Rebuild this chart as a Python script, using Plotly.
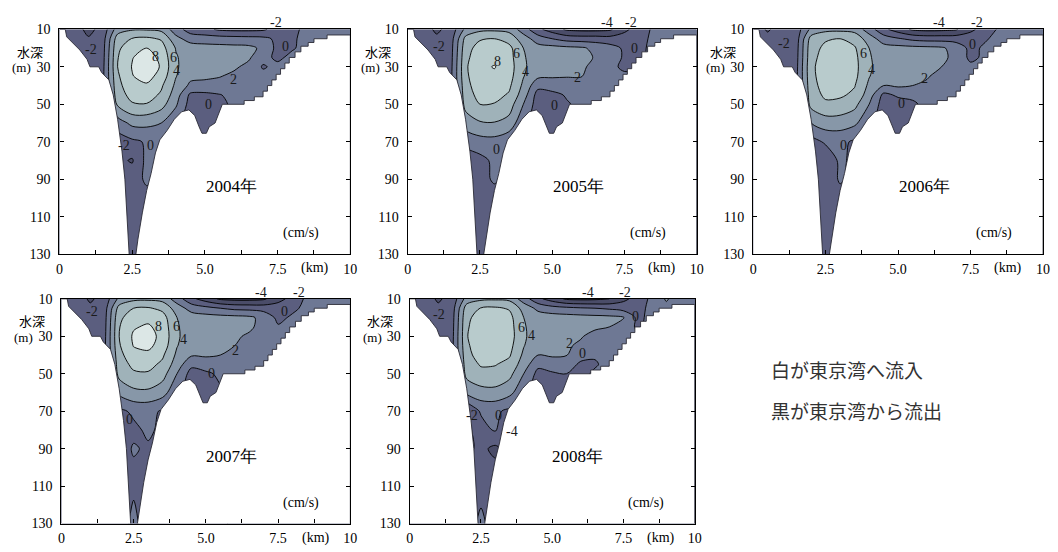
import plotly.graph_objects as go

# ---------------- data ----------------
X_KM = [0, 0.5, 1, 1.5, 2, 2.5, 3, 3.5, 4, 4.5, 5, 5.5, 6, 6.5, 7, 7.5, 8, 8.5, 9, 9.5, 10]
DEPTH_M = [10, 15, 20, 25, 30, 35, 40, 45, 50, 60, 70, 80, 90, 105, 130]
YEARS = ["2004年", "2005年", "2006年", "2007年", "2008年"]

V2004 = [
    [-1.0, -1.0, -2.6, -1.2, 3.0, 3.8, 3.8, 3.5, 1.0, -1.0, -1.5, -2.3, -2.5, -2.5, -2.3, -1.2, -0.5, 0.5, 0.8, 0.8, 0.8],
    [-1.0, -1.0, -1.8, -0.8, 5.0, 6.1, 6.4, 5.8, 2.6, 1.2, 1.0, 0.9, 0.8, 0.7, 0.5, -0.4, -0.3, 0.6, 0.8, 0.8, 0.8],
    [-1.0, -1.2, -1.5, -0.6, 5.6, 7.3, 8.0, 6.9, 3.9, 3.0, 2.8, 2.7, 2.6, 2.5, 1.6, -0.6, -0.2, 0.6, 0.8, 0.8, 0.8],
    [-1.0, -1.3, -1.2, -0.5, 5.9, 7.9, 8.9, 7.5, 4.2, 3.0, 2.9, 2.8, 2.7, 2.3, 0.6, -0.4, 0.5, 0.8, 0.8, 0.8, 0.8],
    [-1.0, -1.3, -1.0, -0.4, 6.0, 8.1, 9.3, 7.8, 4.3, 2.8, 2.6, 2.5, 2.3, 1.5, -0.2, 0.5, 0.8, 0.8, 0.8, 0.8, 0.8],
    [-1.0, -1.2, -1.0, -0.3, 5.7, 7.9, 8.8, 7.2, 4.1, 2.5, 2.3, 2.1, 1.6, 1.0, 0.6, 0.7, 0.8, 0.8, 0.8, 0.8, 0.8],
    [-1.0, -1.0, -1.0, -0.3, 5.4, 7.3, 7.7, 6.3, 3.6, 1.6, 1.5, 1.3, 1.0, 0.8, 0.7, 0.7, 0.8, 0.8, 0.8, 0.8, 0.8],
    [-1.0, -1.0, -1.0, -0.2, 5.0, 6.7, 6.9, 5.7, 3.0, -0.4, -0.5, -0.1, 0.5, 0.7, 0.8, 0.8, 0.8, 0.8, 0.8, 0.8, 0.8],
    [-1.0, -1.0, -1.0, 0.0, 4.3, 5.8, 5.9, 4.8, 2.3, -0.8, -0.8, -0.4, 0.3, 0.7, 0.8, 0.8, 0.8, 0.8, 0.8, 0.8, 0.8],
    [-1.0, -1.0, -1.0, 0.0, 1.0, 2.5, 2.5, 2.0, 0.5, -1.0, -1.0, -0.5, 0.3, 0.7, 0.8, 0.8, 0.8, 0.8, 0.8, 0.8, 0.8],
    [-1.0, -1.0, -1.0, -1.0, -1.0, -0.4, 0.2, 0.0, -0.5, -1.0, -1.0, -0.5, 0.3, 0.7, 0.8, 0.8, 0.8, 0.8, 0.8, 0.8, 0.8],
    [-1.0, -1.0, -1.0, -1.0, -1.5, -2.2, 0.6, -0.5, -1.0, -1.0, -1.0, -0.5, 0.3, 0.7, 0.8, 0.8, 0.8, 0.8, 0.8, 0.8, 0.8],
    [-1.0, -1.0, -1.0, -1.0, -1.0, -0.8, 0.3, -0.5, -1.0, -1.0, -1.0, -0.5, 0.3, 0.7, 0.8, 0.8, 0.8, 0.8, 0.8, 0.8, 0.8],
    [-1.0, -1.0, -1.0, -1.0, -1.0, -1.0, -1.0, -1.0, -1.0, -1.0, -1.0, -0.5, 0.3, 0.7, 0.8, 0.8, 0.8, 0.8, 0.8, 0.8, 0.8],
    [-1.0, -1.0, -1.0, -1.0, -1.0, -1.0, -1.0, -1.0, -1.0, -1.0, -1.0, -0.5, 0.3, 0.7, 0.8, 0.8, 0.8, 0.8, 0.8, 0.8, 0.8],
]

V2005 = [
    [-1.0, -1.0, -2.4, -1.2, 2.5, 3.5, 3.6, 3.4, 1.0, -1.5, -3.0, -4.3, -4.6, -4.6, -4.3, -2.5, -1.0, 0.3, 0.8, 0.8, 0.8],
    [-1.0, -1.0, -1.6, -0.8, 4.6, 5.8, 6.0, 5.2, 3.0, 1.0, 0.0, -0.8, -1.0, -1.0, -1.2, -1.0, -0.5, 0.3, 0.8, 0.8, 0.8],
    [-1.0, -1.2, -1.4, -0.6, 5.2, 6.8, 7.1, 6.6, 4.0, 2.8, 2.7, 2.5, 2.3, 1.5, 0.8, -0.3, -0.5, 0.5, 0.8, 0.8, 0.8],
    [-1.0, -1.2, -1.2, -0.5, 5.5, 7.2, 7.5, 6.8, 4.2, 3.0, 2.8, 2.6, 2.4, 1.9, 0.8, -0.2, -0.5, 0.6, 0.8, 0.8, 0.8],
    [-1.0, -1.2, -1.0, -0.4, 5.7, 7.6, 8.1, 7.0, 4.3, 3.0, 2.7, 2.5, 2.3, 1.5, 0.5, -0.4, -0.3, 0.6, 0.8, 0.8, 0.8],
    [-1.0, -1.1, -1.0, -0.3, 5.6, 7.4, 7.6, 6.8, 4.1, 2.4, 2.2, 2.1, 2.1, 1.2, 0.6, 0.4, 0.6, 0.8, 0.8, 0.8, 0.8],
    [-1.0, -1.0, -1.0, -0.3, 5.3, 7.2, 7.2, 6.4, 3.6, 0.6, 1.0, 1.2, 1.0, 0.8, 0.6, 0.6, 0.8, 0.8, 0.8, 0.8, 0.8],
    [-1.0, -1.0, -1.0, -0.2, 5.0, 6.7, 6.6, 5.8, 3.0, -0.8, -0.6, 0.2, 0.6, 0.7, 0.8, 0.8, 0.8, 0.8, 0.8, 0.8, 0.8],
    [-1.0, -1.0, -1.0, 0.0, 4.6, 6.0, 5.9, 5.0, 2.0, -1.0, -0.9, -0.2, 0.5, 0.7, 0.8, 0.8, 0.8, 0.8, 0.8, 0.8, 0.8],
    [-1.0, -1.0, -1.0, 0.0, 3.0, 3.8, 3.9, 3.3, 0.5, -1.0, -1.0, -0.5, 0.5, 0.7, 0.8, 0.8, 0.8, 0.8, 0.8, 0.8, 0.8],
    [-1.0, -1.0, -1.0, -1.0, 0.5, 1.2, 1.3, 0.5, -0.5, -1.0, -1.0, -0.5, 0.5, 0.7, 0.8, 0.8, 0.8, 0.8, 0.8, 0.8, 0.8],
    [-1.0, -1.0, -1.0, -1.0, -1.0, -0.6, 0.4, -0.3, -1.0, -1.0, -1.0, -0.5, 0.5, 0.7, 0.8, 0.8, 0.8, 0.8, 0.8, 0.8, 0.8],
    [-1.0, -1.0, -1.0, -1.0, -1.0, -0.5, 0.2, -0.5, -1.0, -1.0, -1.0, -0.5, 0.5, 0.7, 0.8, 0.8, 0.8, 0.8, 0.8, 0.8, 0.8],
    [-1.0, -1.0, -1.0, -1.0, -1.0, -1.0, -1.0, -1.0, -1.0, -1.0, -1.0, -0.5, 0.5, 0.7, 0.8, 0.8, 0.8, 0.8, 0.8, 0.8, 0.8],
    [-1.0, -1.0, -1.0, -1.0, -1.0, -1.0, -1.0, -1.0, -1.0, -1.0, -1.0, -0.5, 0.5, 0.7, 0.8, 0.8, 0.8, 0.8, 0.8, 0.8, 0.8],
]

V2006 = [
    [-1.0, -2.2, -1.2, -1.0, 2.5, 3.4, 3.5, 3.3, 1.0, -1.5, -3.0, -4.3, -4.6, -4.5, -4.2, -2.5, -1.0, 0.3, 0.8, 0.8, 0.8],
    [-1.0, -1.5, -1.4, -0.8, 4.8, 5.8, 6.0, 5.3, 3.0, 1.0, 0.2, -0.5, -0.8, -0.8, -0.8, -0.8, -0.2, 0.6, 0.8, 0.8, 0.8],
    [-1.0, -1.2, -1.4, -0.6, 5.3, 6.4, 6.6, 6.2, 4.0, 2.8, 2.7, 2.6, 2.5, 2.3, 1.2, -0.5, 0.3, 0.7, 0.8, 0.8, 0.8],
    [-1.0, -1.2, -1.2, -0.5, 5.4, 6.8, 7.0, 6.5, 4.2, 3.0, 2.9, 2.8, 2.7, 2.4, 1.5, -0.5, 0.4, 0.8, 0.8, 0.8, 0.8],
    [-1.0, -1.3, -1.0, -0.4, 5.6, 7.0, 7.2, 6.6, 4.3, 3.0, 2.8, 2.6, 2.4, 2.0, 0.4, 0.5, 0.8, 0.8, 0.8, 0.8, 0.8],
    [-1.0, -1.2, -1.0, -0.3, 5.5, 7.0, 7.2, 6.5, 4.1, 2.7, 2.5, 2.3, 2.2, 1.2, 0.6, 0.7, 0.8, 0.8, 0.8, 0.8, 0.8],
    [-1.0, -1.0, -1.0, -0.3, 5.3, 6.8, 6.9, 6.1, 3.6, 2.0, 2.3, 2.0, 1.6, 0.9, 0.7, 0.7, 0.8, 0.8, 0.8, 0.8, 0.8],
    [-1.0, -1.0, -1.0, -0.2, 5.0, 6.4, 6.3, 5.6, 3.0, -0.5, 0.3, 0.4, 0.5, 0.7, 0.8, 0.8, 0.8, 0.8, 0.8, 0.8, 0.8],
    [-1.0, -1.0, -1.0, 0.0, 4.6, 5.6, 5.4, 4.6, 2.0, -1.0, -0.8, -0.3, 0.5, 0.7, 0.8, 0.8, 0.8, 0.8, 0.8, 0.8, 0.8],
    [-1.0, -1.0, -1.0, 0.0, 2.0, 3.0, 3.0, 2.4, 0.5, -1.0, -1.0, -0.5, 0.5, 0.7, 0.8, 0.8, 0.8, 0.8, 0.8, 0.8, 0.8],
    [-1.0, -1.0, -1.0, -1.0, -0.8, 0.3, 0.5, -0.3, -1.0, -1.0, -1.0, -0.5, 0.5, 0.7, 0.8, 0.8, 0.8, 0.8, 0.8, 0.8, 0.8],
    [-1.0, -1.0, -1.0, -1.0, -1.0, -1.5, 0.4, -0.5, -1.0, -1.0, -1.0, -0.5, 0.5, 0.7, 0.8, 0.8, 0.8, 0.8, 0.8, 0.8, 0.8],
    [-1.0, -1.0, -1.0, -1.0, -1.0, -1.0, 0.2, -0.5, -1.0, -1.0, -1.0, -0.5, 0.5, 0.7, 0.8, 0.8, 0.8, 0.8, 0.8, 0.8, 0.8],
    [-1.0, -1.0, -1.0, -1.0, -1.0, -1.0, -1.0, -1.0, -1.0, -1.0, -1.0, -0.5, 0.5, 0.7, 0.8, 0.8, 0.8, 0.8, 0.8, 0.8, 0.8],
    [-1.0, -1.0, -1.0, -1.0, -1.0, -1.0, -1.0, -1.0, -1.0, -1.0, -1.0, -0.5, 0.5, 0.7, 0.8, 0.8, 0.8, 0.8, 0.8, 0.8, 0.8],
]

V2007 = [
    [-1.0, -1.0, -2.3, -1.2, 2.5, 3.5, 3.6, 3.3, 1.0, -1.5, -3.0, -4.3, -4.6, -4.6, -4.3, -2.8, -1.2, 0.4, 0.8, 0.8, 0.8],
    [-1.0, -1.0, -1.6, -0.8, 4.8, 6.0, 6.2, 5.5, 3.0, 1.2, 0.6, 0.0, -0.5, -0.6, -0.8, -0.8, -0.4, 0.5, 0.8, 0.8, 0.8],
    [-1.0, -1.2, -1.4, -0.6, 5.6, 7.0, 7.4, 6.8, 4.0, 3.0, 2.8, 2.7, 2.6, 2.4, 1.4, -0.5, 0.3, 0.7, 0.8, 0.8, 0.8],
    [-1.0, -1.2, -1.2, -0.5, 5.9, 7.8, 8.3, 7.2, 4.2, 3.0, 2.9, 2.8, 2.7, 2.5, 1.0, 0.2, 0.6, 0.8, 0.8, 0.8, 0.8],
    [-1.0, -1.3, -1.0, -0.4, 6.0, 8.3, 8.8, 7.4, 4.3, 2.9, 2.7, 2.6, 2.4, 1.6, 0.5, 0.6, 0.8, 0.8, 0.8, 0.8, 0.8],
    [-1.0, -1.2, -1.0, -0.3, 5.8, 8.1, 8.5, 7.1, 4.1, 2.6, 2.3, 2.4, 2.0, 1.2, 0.6, 0.7, 0.8, 0.8, 0.8, 0.8, 0.8],
    [-1.0, -1.0, -1.0, -0.3, 5.4, 7.3, 7.5, 6.3, 3.6, 2.2, 2.3, 2.0, 1.3, 0.9, 0.7, 0.7, 0.8, 0.8, 0.8, 0.8, 0.8],
    [-1.0, -1.0, -1.0, -0.2, 5.0, 6.5, 6.6, 5.6, 3.0, 0.5, 0.8, 0.5, 0.5, 0.7, 0.8, 0.8, 0.8, 0.8, 0.8, 0.8, 0.8],
    [-1.0, -1.0, -1.0, 0.0, 4.6, 5.7, 5.8, 4.8, 2.0, -0.8, -0.3, 0.3, 0.5, 0.7, 0.8, 0.8, 0.8, 0.8, 0.8, 0.8, 0.8],
    [-1.0, -1.0, -1.0, 0.0, 2.5, 3.5, 3.6, 2.8, 0.5, -1.0, -0.8, -0.2, 0.5, 0.7, 0.8, 0.8, 0.8, 0.8, 0.8, 0.8, 0.8],
    [-1.0, -1.0, -1.0, -1.0, -0.5, 0.4, 0.5, -0.2, -1.0, -1.0, -1.0, -0.5, 0.5, 0.7, 0.8, 0.8, 0.8, 0.8, 0.8, 0.8, 0.8],
    [-1.0, -1.0, -1.0, -1.0, -1.0, -0.5, 0.4, -0.5, -1.0, -1.0, -1.0, -0.5, 0.5, 0.7, 0.8, 0.8, 0.8, 0.8, 0.8, 0.8, 0.8],
    [-1.0, -1.0, -1.0, -1.0, -1.0, 0.2, -0.3, -0.5, -1.0, -1.0, -1.0, -0.5, 0.5, 0.7, 0.8, 0.8, 0.8, 0.8, 0.8, 0.8, 0.8],
    [-1.0, -1.0, -1.0, -1.0, -1.0, -0.5, -1.0, -1.0, -1.0, -1.0, -1.0, -0.5, 0.5, 0.7, 0.8, 0.8, 0.8, 0.8, 0.8, 0.8, 0.8],
    [-1.0, -1.0, -1.0, -1.0, -1.0, 0.5, -1.0, -1.0, -1.0, -1.0, -1.0, -0.5, 0.5, 0.7, 0.8, 0.8, 0.8, 0.8, 0.8, 0.8, 0.8],
]

V2008 = [
    [-1.0, -1.0, -2.3, -1.2, 2.8, 3.6, 3.7, 3.5, 1.0, -1.5, -3.0, -4.3, -4.5, -4.4, -4.0, -2.5, -1.2, 0.5, 2.2, 1.0, 0.8],
    [-1.0, -1.0, -1.6, -0.8, 5.0, 6.1, 6.3, 5.8, 3.2, 1.5, 0.8, 0.5, 0.2, 0.0, -0.3, -0.8, -0.6, 0.5, 1.5, 0.8, 0.8],
    [-1.0, -1.2, -1.4, -0.6, 5.6, 6.8, 7.0, 6.6, 4.0, 3.0, 2.9, 2.8, 2.7, 2.6, 2.5, 2.1, -0.5, 0.6, 0.8, 0.8, 0.8],
    [-1.0, -1.2, -1.2, -0.5, 5.8, 7.0, 7.2, 6.8, 4.2, 3.0, 2.9, 2.8, 2.6, 2.4, 2.0, 1.0, -0.3, 0.6, 0.8, 0.8, 0.8],
    [-1.0, -1.3, -1.0, -0.4, 5.9, 7.2, 7.3, 6.9, 4.3, 2.9, 2.7, 2.5, 2.2, 1.2, 0.5, 0.3, 0.2, 0.8, 0.8, 0.8, 0.8],
    [-1.0, -1.2, -1.0, -0.3, 5.7, 7.1, 7.2, 6.6, 4.1, 2.5, 2.4, 2.3, 1.6, 0.8, 0.2, 0.5, 0.8, 0.8, 0.8, 0.8, 0.8],
    [-1.0, -1.0, -1.0, -0.3, 5.4, 6.9, 6.9, 6.2, 3.6, 2.0, 2.2, 2.1, 0.6, 0.2, 0.5, 0.7, 0.8, 0.8, 0.8, 0.8, 0.8],
    [-1.0, -1.0, -1.0, -0.2, 5.0, 6.2, 6.1, 5.4, 3.0, 0.5, 1.2, 0.8, -0.3, -0.2, 0.6, 0.8, 0.8, 0.8, 0.8, 0.8, 0.8],
    [-1.0, -1.0, -1.0, 0.0, 4.6, 5.4, 5.4, 4.6, 2.0, -0.6, -0.3, 0.0, -0.5, 0.3, 0.7, 0.8, 0.8, 0.8, 0.8, 0.8, 0.8],
    [-1.0, -1.0, -1.0, 0.0, 2.5, 3.3, 3.4, 2.6, 0.5, -1.0, -1.0, -0.5, -0.5, 0.5, 0.7, 0.8, 0.8, 0.8, 0.8, 0.8, 0.8],
    [-1.0, -1.0, -1.0, -1.0, -2.2, 0.3, 0.4, -0.5, -1.0, -1.0, -1.0, -0.5, -0.5, 0.5, 0.7, 0.8, 0.8, 0.8, 0.8, 0.8, 0.8],
    [-1.0, -1.0, -1.0, -1.0, -2.5, -1.0, 0.3, -3.5, -1.0, -1.0, -1.0, -0.5, -0.5, 0.5, 0.7, 0.8, 0.8, 0.8, 0.8, 0.8, 0.8],
    [-1.0, -1.0, -1.0, -1.0, -2.5, -1.5, -2.5, -1.0, -1.0, -1.0, -1.0, -0.5, -0.5, 0.5, 0.7, 0.8, 0.8, 0.8, 0.8, 0.8, 0.8],
    [-1.0, -1.0, -1.0, -1.0, -1.0, -1.0, -1.0, -1.0, -1.0, -1.0, -1.0, -0.5, -0.5, 0.5, 0.7, 0.8, 0.8, 0.8, 0.8, 0.8, 0.8],
    [-1.0, -1.0, -1.0, -1.0, -1.0, 0.5, -1.0, -1.0, -1.0, -1.0, -1.0, -0.5, -0.5, 0.5, 0.7, 0.8, 0.8, 0.8, 0.8, 0.8, 0.8],
]

FIELDS = [V2004, V2005, V2006, V2007, V2008]

# sea floor profile (km, m) shared by the sections
BOTTOM_X = [0, 0.2, 0.25, 0.45, 0.7, 0.95, 1.05, 1.35, 1.45, 1.7, 1.85, 2.0, 2.15, 2.25, 2.3, 2.35, 2.4, 2.62,
            2.7, 2.85, 3.0, 3.15, 3.3, 3.45, 3.7, 3.95, 4.2, 4.45, 4.65, 4.8, 4.9, 5.05, 5.15, 5.35, 5.55, 5.6,
            6.35, 6.35, 6.7, 6.7, 7.0, 7.0, 7.15, 7.15, 7.3, 7.3, 7.45, 7.45, 7.6, 7.6, 7.75, 7.75, 7.9, 7.9,
            8.1, 8.1, 8.3, 8.3, 8.55, 8.55, 8.75, 8.75, 9.2, 9.2, 10, 10, 0]
BOTTOM_Z = [10, 10, 14, 17, 21, 26, 30, 30, 33, 37, 45, 58, 75, 90, 105, 120, 131, 131,
            122, 108, 96, 87, 76, 69, 64, 58, 54, 53, 56, 62, 65.5, 65.5, 62, 60, 52, 50,
            50, 48, 48, 46, 46, 43, 43, 40, 40, 37, 37, 34, 34, 31, 31, 28, 28, 25,
            25, 22, 22, 19, 19, 17, 17, 15, 15, 13, 13, 136, 136]

# contour labels per panel: (text, km, m)
LABELS = [
    [("-2", 1.08, 21), ("8", 3.3, 24.4), ("6", 3.92, 25.2), ("4", 4.03, 32), ("2", 5.97, 36.5),
     ("0", 5.11, 50.3), ("0", 7.78, 19.2), ("-2", 2.22, 72), ("0", 3.13, 72)],
    [("-2", 1.09, 19.2), ("8", 3.11, 27), ("6", 3.77, 22.7), ("4", 4.09, 32.3), ("2", 5.89, 35.7),
     ("0", 5.09, 50.5), ("0", 7.83, 20), ("0", 3.06, 74)],
    [("-2", 1.08, 17.4), ("6", 3.81, 23), ("4", 4.07, 31.3), ("2", 5.91, 36), ("0", 5.11, 49.5),
     ("0", 7.56, 18.3), ("0", 3.13, 72)],
    [("-2", 1.06, 17), ("8", 3.35, 24.8), ("6", 3.98, 24.8), ("4", 4.21, 31.7), ("2", 6.04, 37.8),
     ("0", 5.18, 50), ("0", 7.71, 17), ("0", 2.37, 74.3)],
    [("-2", 1.04, 18.3), ("6", 3.93, 25.3), ("4", 4.28, 29.7), ("2", 5.61, 34), ("0", 6.07, 39.2),
     ("0", 7.92, 19.2), ("-2", 2.2, 72.3), ("0", 3.12, 72.3), ("-4", 3.58, 81)],
]
TOP_LABELS = [
    [("-2", 7.44)],
    [("-4", 6.91), ("-2", 7.71)],
    [("-4", 6.42), ("-2", 7.73)],
    [("-4", 6.9), ("-2", 8.22)],
    [("-4", 6.24), ("-2", 7.57)],
]

X_TICKS = [0, 1.25, 2.5, 3.75, 5, 6.25, 7.5, 8.75, 10]
X_TICKTEXT = ["0", "", "2.5", "", "5.0", "", "7.5", "", "10"]
Y_TICKS = [10, 30, 50, 70, 90, 110, 130]

# band colours: <-4, -4..-2, -2..0, 0..2, 2..4, 4..6, 6..8, >8
BAND_COLORS = ["#3a3c55", "#4a4c68", "#5b5e7f", "#6e7894", "#8797a8", "#9fb2b9", "#b8cbcc", "#dce7e6"]

# ---------------- figure ----------------
W, H = 1058, 552
PANELS = [(56, 350, 23, 254), (408, 700, 23, 254), (757, 1050, 23, 254),
          (58, 350, 300, 531), (410, 698, 300, 531)]

SERIF = "Liberation Serif"
CJK = "Noto Sans CJK JP"

colorscale = [[i / 7, c] for i, c in enumerate(BAND_COLORS)]

fig = go.Figure()
annotations = []
layout = dict(width=W, height=H, margin=dict(l=0, r=0, t=0, b=0),
              paper_bgcolor="white", plot_bgcolor="white", showlegend=False,
              font=dict(family=SERIF, size=14, color="black"))

for i, (l, r, t, b) in enumerate(PANELS):
    n = i + 1
    xa = "x" if n == 1 else f"x{n}"
    ya = "y" if n == 1 else f"y{n}"
    fig.add_trace(go.Contour(
        x=X_KM, y=DEPTH_M, z=FIELDS[i], xaxis=xa, yaxis=ya,
        autocontour=False, contours=dict(start=-4, end=8, size=2, coloring="fill", showlines=True),
        colorscale=colorscale, showscale=False, hoverinfo="skip",
        line=dict(color="black", width=0.9, smoothing=0.9),
    ))
    fig.add_trace(go.Scatter(
        x=BOTTOM_X, y=BOTTOM_Z, xaxis=xa, yaxis=ya, mode="lines",
        fill="toself", fillcolor="white", line=dict(color="#2a2a35", width=0.9),
        hoverinfo="skip",
    ))
    layout[f"xaxis{'' if n == 1 else n}"] = dict(
        domain=[l / W, r / W], anchor=ya, range=[0, 10], tickvals=X_TICKS, ticktext=X_TICKTEXT,
        ticks="inside", ticklen=4, tickcolor="black", showline=True, linecolor="black", linewidth=1.2,
        mirror=True, showgrid=False, zeroline=False, tickangle=0, ticklabelstandoff=2,
        tickfont=dict(family=SERIF, size=14, color="black"))
    layout[f"yaxis{'' if n == 1 else n}"] = dict(
        domain=[1 - b / H, 1 - t / H], anchor=xa, range=[130, 10], tickvals=Y_TICKS,
        ticks="inside", ticklen=4, tickcolor="black", showline=True, linecolor="black", linewidth=1.2,
        mirror="ticks", showgrid=False, zeroline=False, ticklabelstandoff=5,
        tickfont=dict(family=SERIF, size=14, color="black"))

    for txt, xk, dm in LABELS[i]:
        annotations.append(dict(x=xk, y=dm, xref=xa, yref=ya, text=txt, showarrow=False,
                                xanchor="center", yanchor="middle",
                                font=dict(family=SERIF, size=14, color="#1a1a1a")))
    for txt, xk in TOP_LABELS[i]:
        annotations.append(dict(x=xk, y=1, xref=xa, yref=f"{ya} domain", text=txt, showarrow=False,
                                xanchor="center", yanchor="bottom", yshift=-3,
                                font=dict(family=SERIF, size=14, color="#1a1a1a")))
    annotations.append(dict(x=5.9, y=94, xref=xa, yref=ya, text=YEARS[i], showarrow=False,
                            xanchor="center", yanchor="middle",
                            font=dict(family=SERIF, size=17, color="black")))
    annotations.append(dict(x=8.3, y=119, xref=xa, yref=ya, text="(cm/s)", showarrow=False,
                            xanchor="center", yanchor="middle",
                            font=dict(family=SERIF, size=14, color="black")))
    annotations.append(dict(x=8.8, y=0, xref=xa, yref=f"{ya} domain", text="(km)", showarrow=False,
                            xanchor="center", yanchor="top", yshift=-4,
                            font=dict(family=SERIF, size=14, color="black")))
    annotations.append(dict(x=(l - 30) / W, y=21.6, xref="paper", yref=ya,
                            text="水深", showarrow=False, xanchor="center", yanchor="middle",
                            font=dict(family=CJK, size=13, color="black")))
    annotations.append(dict(x=(l - 38) / W, y=30.6, xref="paper", yref=ya,
                            text="(m)", showarrow=False, xanchor="center", yanchor="middle",
                            font=dict(family=SERIF, size=13, color="black")))

NOTES = ["白が東京湾へ流入", "黒が東京湾から流出"]
for txt, py in zip(NOTES, [373, 415]):
    annotations.append(dict(x=773 / W, y=1 - py / H, xref="paper", yref="paper", text=txt,
                            showarrow=False, xanchor="left", yanchor="middle",
                            font=dict(family=CJK, size=19, color="#333333")))

layout["annotations"] = annotations
fig.update_layout(**layout)
fig.write_html("out.html")
